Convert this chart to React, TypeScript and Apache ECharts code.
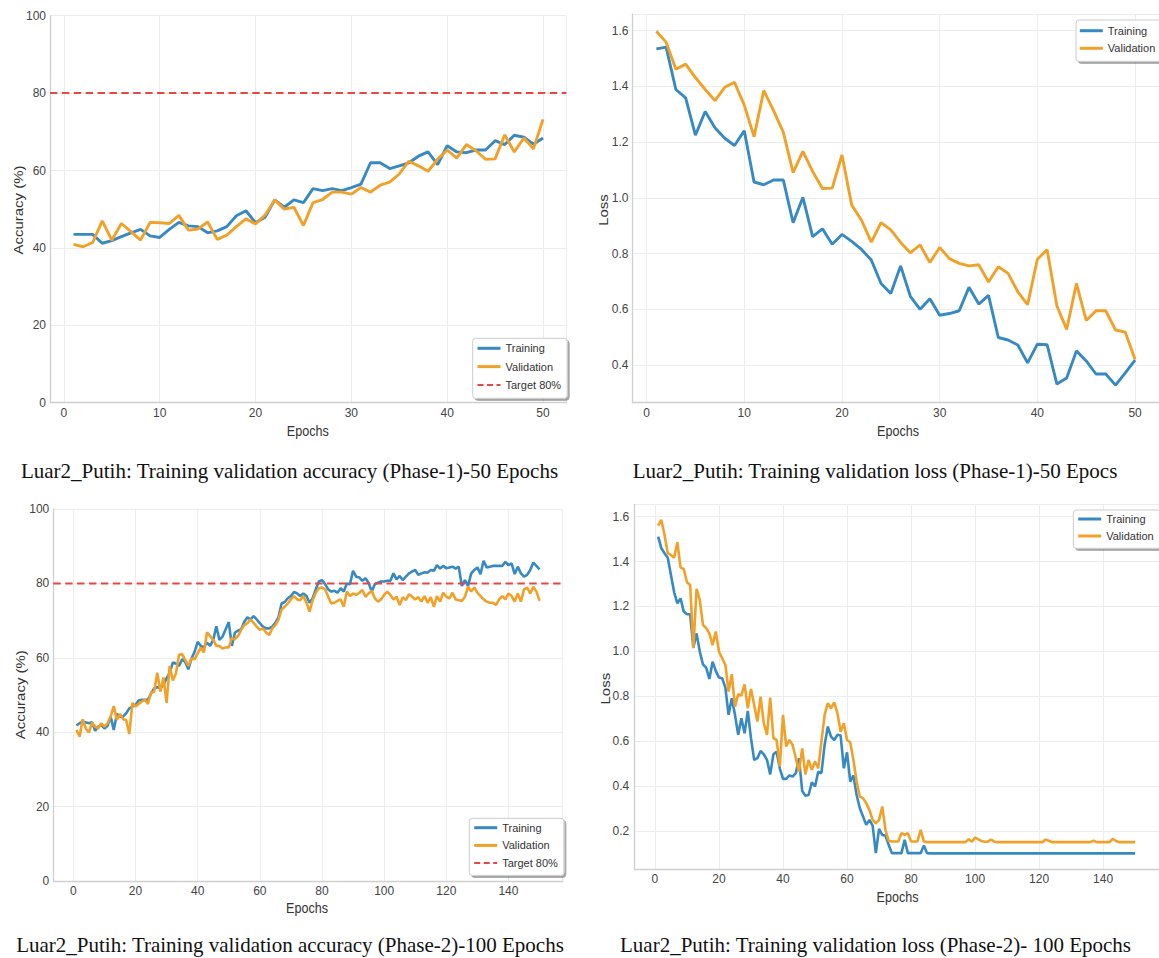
import React, { useEffect, useRef } from "react";
import * as echarts from "echarts";

// ---------------- DATA ----------------
const p1Epochs = Array.from({ length: 50 }, (_, i) => i + 1);
const p2Epochs = Array.from({ length: 150 }, (_, i) => i + 1);
const targetAccuracy = 80;

const p1TrainAcc = [
  43.5, 43.5, 43.5, 41.2, 41.9, 42.9, 43.9, 44.8, 43.1, 42.7,
  44.8, 46.6, 45.7, 45.5, 43.9, 44.4, 45.5, 48.3, 49.6, 46.5,
  47.9, 52.4, 50.5, 52.4, 51.7, 55.3, 54.8, 55.3, 54.8, 55.6,
  56.5, 62.0, 62.0, 60.5, 61.2, 62.0, 63.7, 64.8, 61.5, 66.4,
  64.8, 64.6, 65.3, 65.3, 67.7, 66.7, 69.1, 68.6, 66.8, 68.4,
];
const p1ValAcc = [
  40.9, 40.3, 41.4, 47.0, 42.0, 46.3, 44.2, 42.0, 46.6, 46.5,
  46.3, 48.4, 44.6, 44.9, 46.7, 42.2, 43.3, 45.5, 47.5, 46.2,
  48.5, 52.4, 50.0, 50.5, 45.8, 51.7, 52.5, 54.4, 54.4, 53.9,
  55.6, 54.4, 56.2, 57.0, 59.1, 62.4, 61.2, 59.8, 62.9, 65.3,
  63.2, 66.7, 65.1, 62.9, 63.0, 69.2, 64.8, 68.4, 65.6, 73.2,
];
const p1TrainLoss = [
  1.535, 1.541, 1.389, 1.359, 1.225, 1.31, 1.252, 1.214, 1.188, 1.241,
  1.057, 1.047, 1.064, 1.064, 0.911, 1.002, 0.861, 0.889, 0.834, 0.869,
  0.844, 0.815, 0.777, 0.693, 0.657, 0.756, 0.647, 0.6, 0.638, 0.579,
  0.585, 0.595, 0.679, 0.619, 0.65, 0.499, 0.49, 0.472, 0.408, 0.475,
  0.473, 0.332, 0.354, 0.451, 0.415, 0.368, 0.368, 0.328, 0.372, 0.418,
];
const p1ValLoss = [
  1.598, 1.559, 1.462, 1.48, 1.432, 1.389, 1.349, 1.397, 1.415, 1.333,
  1.22, 1.385, 1.313, 1.235, 1.091, 1.167, 1.095, 1.034, 1.035, 1.154,
  0.974, 0.92, 0.841, 0.911, 0.885, 0.84, 0.803, 0.831, 0.768, 0.822,
  0.782, 0.765, 0.756, 0.76, 0.698, 0.753, 0.729, 0.663, 0.617, 0.78,
  0.814, 0.612, 0.528, 0.693, 0.56, 0.595, 0.595, 0.526, 0.518, 0.42,
];

const p2TrainAcc = [
  41.8, 42.4, 42.8, 42.6, 42.4, 42.7, 40.4, 41.5, 41.9, 41.0,
  41.7, 44.2, 40.6, 44.9, 44.2, 44.2, 45.1, 46.4, 46.9, 47.3,
  48.5, 48.7, 48.7, 48.7, 50.4, 51.8, 52.1, 51.8, 52.7, 54.5,
  56.0, 58.7, 58.5, 57.8, 59.6, 58.9, 56.9, 59.8, 61.6, 64.3,
  63.2, 62.8, 64.1, 63.2, 64.8, 68.5, 64.8, 65.7, 67.7, 69.6,
  63.2, 66.8, 67.3, 67.7, 69.7, 70.9, 70.3, 71.2, 70.3, 69.3,
  68.4, 67.9, 67.9, 68.4, 69.4, 70.9, 74.6, 75.0, 76.0, 76.6,
  77.7, 77.3, 76.6, 77.3, 76.6, 74.8, 76.0, 78.4, 80.5, 80.9,
  79.8, 78.4, 77.8, 78.0, 77.5, 78.7, 77.8, 80.0, 79.8, 83.4,
  81.8, 81.6, 80.7, 81.4, 80.2, 77.8, 79.8, 80.2, 80.5, 80.5,
  80.7, 80.7, 82.7, 81.1, 82.0, 80.9, 81.8, 82.7, 83.2, 83.6,
  82.3, 82.7, 83.0, 82.9, 83.6, 83.4, 84.9, 84.0, 84.7, 84.1,
  84.3, 84.5, 84.0, 84.5, 79.3, 80.9, 79.3, 82.7, 83.6, 84.3,
  82.5, 86.1, 84.3, 84.5, 84.7, 84.7, 84.7, 84.7, 85.8, 84.9,
  85.4, 82.5, 84.5, 82.7, 81.8, 82.3, 83.6, 85.6, 84.7, 83.8,
];
const p2ValAcc = [
  40.6, 38.8, 43.5, 41.0, 39.9, 42.6, 41.5, 41.0, 42.4, 41.5,
  42.4, 44.2, 47.0, 43.3, 44.9, 43.5, 43.3, 39.5, 47.9, 46.9,
  47.6, 48.2, 48.8, 47.6, 50.6, 50.9, 56.0, 50.9, 54.7, 47.9,
  57.8, 53.9, 55.8, 60.8, 61.0, 59.4, 57.8, 59.8, 59.6, 61.2,
  62.8, 61.4, 66.8, 65.9, 64.8, 63.2, 63.2, 62.5, 62.8, 62.8,
  65.3, 65.0, 65.9, 67.5, 68.8, 69.3, 70.3, 69.4, 68.4, 67.5,
  67.9, 66.8, 66.1, 67.9, 68.8, 70.2, 73.0, 73.7, 74.6, 75.7,
  76.6, 75.7, 75.5, 76.6, 74.8, 72.4, 75.5, 77.5, 78.7, 78.9,
  78.4, 76.4, 74.6, 74.8, 75.3, 75.7, 73.7, 77.8, 76.6, 77.3,
  76.9, 77.5, 78.2, 76.4, 77.3, 78.0, 76.0, 75.1, 75.7, 76.9,
  77.8, 76.9, 75.7, 76.4, 74.2, 76.3, 75.5, 77.1, 76.4, 75.7,
  76.3, 75.1, 76.6, 74.8, 76.3, 73.7, 76.6, 75.1, 77.5, 76.4,
  76.0, 77.5, 75.7, 75.5, 75.3, 76.4, 79.1, 77.8, 78.9, 77.5,
  76.6, 75.7, 75.1, 74.8, 74.8, 74.2, 75.7, 76.6, 75.7, 77.3,
  76.6, 75.1, 77.3, 75.1, 78.4, 78.9, 77.3, 79.1, 77.8, 75.3,
];
const p2TrainLoss = [
  1.511, 1.459, 1.437, 1.417, 1.34, 1.263, 1.214, 1.236, 1.177, 1.165,
  1.165, 1.017, 1.08, 0.999, 0.942, 0.927, 0.877, 0.954, 0.913, 0.883,
  0.88, 0.838, 0.717, 0.791, 0.717, 0.628, 0.702, 0.635, 0.735, 0.613,
  0.516, 0.524, 0.556, 0.541, 0.516, 0.452, 0.541, 0.553, 0.479, 0.432,
  0.432, 0.447, 0.442, 0.457, 0.524, 0.378, 0.357, 0.36, 0.417, 0.398,
  0.464, 0.457, 0.583, 0.665, 0.62, 0.605, 0.628, 0.625, 0.479, 0.55,
  0.42, 0.447, 0.36, 0.301, 0.264, 0.227, 0.249, 0.224, 0.101, 0.209,
  0.182, 0.179, 0.138, 0.101, 0.101, 0.101, 0.101, 0.16, 0.101, 0.101,
  0.101, 0.101, 0.101, 0.135, 0.101, 0.1, 0.1, 0.1, 0.1, 0.1,
  0.1, 0.1, 0.1, 0.1, 0.1, 0.1, 0.1, 0.1, 0.1, 0.1,
  0.1, 0.1, 0.1, 0.1, 0.1, 0.1, 0.1, 0.1, 0.1, 0.1,
  0.1, 0.1, 0.1, 0.1, 0.1, 0.1, 0.1, 0.1, 0.1, 0.1,
  0.1, 0.1, 0.1, 0.1, 0.1, 0.1, 0.1, 0.1, 0.1, 0.1,
  0.1, 0.1, 0.1, 0.1, 0.1, 0.1, 0.1, 0.1, 0.1, 0.1,
  0.1, 0.1, 0.1, 0.1, 0.1, 0.1, 0.1, 0.1, 0.1, 0.1,
];
const p2ValLoss = [
  1.56, 1.585, 1.518, 1.437, 1.429, 1.417, 1.486, 1.373, 1.367, 1.308,
  1.296, 1.014, 1.278, 1.229, 1.118, 1.103, 1.08, 1.028, 1.088, 0.999,
  0.969, 0.939, 0.821, 0.898, 0.754, 0.809, 0.803, 0.853, 0.746, 0.832,
  0.761, 0.687, 0.798, 0.68, 0.628, 0.794, 0.613, 0.605, 0.487, 0.717,
  0.576, 0.605, 0.583, 0.524, 0.464, 0.568, 0.452, 0.516, 0.472, 0.509,
  0.479, 0.598, 0.717, 0.769, 0.746, 0.773, 0.724, 0.642, 0.68, 0.605,
  0.595, 0.516, 0.42, 0.353, 0.346, 0.323, 0.294, 0.249, 0.234, 0.249,
  0.309, 0.205, 0.156, 0.153, 0.153, 0.153, 0.19, 0.183, 0.19, 0.153,
  0.153, 0.153, 0.205, 0.153, 0.15, 0.15, 0.15, 0.15, 0.15, 0.15,
  0.15, 0.15, 0.15, 0.15, 0.15, 0.15, 0.15, 0.163, 0.152, 0.17,
  0.162, 0.155, 0.152, 0.152, 0.162, 0.152, 0.15, 0.15, 0.15, 0.15,
  0.15, 0.15, 0.15, 0.15, 0.15, 0.15, 0.15, 0.15, 0.15, 0.15,
  0.15, 0.162, 0.156, 0.15, 0.15, 0.15, 0.15, 0.15, 0.15, 0.15,
  0.15, 0.15, 0.15, 0.15, 0.15, 0.15, 0.157, 0.15, 0.15, 0.15,
  0.15, 0.15, 0.165, 0.155, 0.15, 0.15, 0.15, 0.15, 0.15, 0.15,
];

const captions = [
  "Luar2_Putih: Training validation accuracy (Phase-1)-50 Epochs",
  "Luar2_Putih: Training validation loss (Phase-1)-50 Epocs",
  "Luar2_Putih: Training validation accuracy (Phase-2)-100 Epochs",
  "Luar2_Putih: Training validation loss (Phase-2)- 100 Epochs",
];

// ---------------- STYLE ----------------
const BLUE = "#3689C3";
const ORANGE = "#F2A128";
const RED = "#E84545";
const AXIS_C = "#cfcfcf";
const GRID_C = "#ededed";
const TICK_C = "#444444";
const TITLE_C = "#333333";
const SANS = "'Liberation Sans', Arial, sans-serif";
const SERIF = "'Liberation Serif', 'Times New Roman', serif";
const SQUISH = 0.84;

const pairs = (xs: number[], ys: number[]) => xs.map((x, i) => [x, ys[i]]);

function xAxisOf(gridIndex: number, min: number, max: number, splitNumber: number) {
  return {
    type: "value",
    gridIndex,
    min,
    max,
    splitNumber,
    axisLine: { show: true, onZero: false, lineStyle: { color: AXIS_C, width: 1.3 } },
    axisTick: { show: false },
    splitLine: { show: true, lineStyle: { color: GRID_C, width: 1 } },
    axisLabel: {
      showMinLabel: false,
      showMaxLabel: false,
      margin: 4,
      fontFamily: SANS,
      fontSize: 12,
      color: TICK_C,
    },
  };
}

function yAxisOf(gridIndex: number, min: number, max: number, opts: any) {
  return {
    type: "value",
    gridIndex,
    min,
    max,
    ...opts.scale,
    axisLine: { show: true, onZero: false, lineStyle: { color: AXIS_C, width: 1.3 } },
    axisTick: { show: false },
    splitLine: { show: true, lineStyle: { color: GRID_C, width: 1 } },
    axisLabel: {
      margin: opts.margin ?? 4,
      fontFamily: SANS,
      fontSize: 12,
      color: TICK_C,
      ...opts.label,
    },
  };
}

function lineSeries(name: string, idx: number, data: number[][], color: string, width: number, z: number, dashed = false) {
  return {
    type: "line",
    name,
    xAxisIndex: idx,
    yAxisIndex: idx,
    data,
    showSymbol: false,
    symbol: "none",
    z,
    emphasis: { disabled: true },
    lineStyle: { color, width, type: dashed ? [7.4, 4.5] : "solid" },
    itemStyle: { color },
  };
}

function legendOf(left: number, top: number, names: string[], itemGap: number, padding: number[]) {
  return {
    orient: "vertical",
    left,
    top,
    data: names.map((n) =>
      n === "Target 80%"
        ? { name: n, lineStyle: { type: [6, 3.5], width: 2 } }
        : { name: n, lineStyle: { width: 3 } }
    ),
    selectedMode: false,
    itemWidth: 23,
    itemHeight: 10,
    itemGap,
    padding,
    itemStyle: { opacity: 0 },
    backgroundColor: "#ffffff",
    borderColor: "#cccccc",
    borderWidth: 1,
    borderRadius: 3,
    shadowColor: "rgba(0,0,0,0.35)",
    shadowBlur: 1,
    shadowOffsetX: 2,
    shadowOffsetY: 2,
    textStyle: { fontFamily: SANS, fontSize: 11, color: "#333", lineHeight: 14 },
  };
}

function txt(text: string, x: number, y: number, font: string, size: number, color: string, rotation = 0, sx = 1, sy = 1) {
  return {
    type: "text",
    x,
    y,
    rotation,
    scaleX: sx,
    scaleY: sy,
    silent: true,
    style: {
      text,
      fontFamily: font,
      fontSize: size,
      fill: color,
      align: "center",
      verticalAlign: "middle",
    },
  };
}

function buildOption() {
  const p1X: [number, number] = [-1.45, 52.45];
  const p2X: [number, number] = [-6.45, 157.45];
  const fmt1 = (v: number) => v.toFixed(1);

  return {
    animation: false,
    backgroundColor: "#ffffff",
    grid: [
      { left: 50, top: 15.7, width: 516.5, height: 387 },
      { left: 632.4, top: 14, width: 532, height: 388.7 },
      { left: 53.3, top: 509, width: 509.4, height: 372 },
      { left: 634.3, top: 504.3, width: 525.8, height: 365 },
    ],
    xAxis: [
      xAxisOf(0, p1X[0], p1X[1], 5),
      xAxisOf(1, p1X[0], p1X[1], 5),
      xAxisOf(2, p2X[0], p2X[1], 8),
      xAxisOf(3, p2X[0], p2X[1], 8),
    ],
    yAxis: [
      yAxisOf(0, 0, 100, { scale: { interval: 20 } }),
      yAxisOf(1, 0.265, 1.66, {
        scale: { splitNumber: 7 },
        label: { showMinLabel: false, showMaxLabel: false, formatter: fmt1 },
      }),
      yAxisOf(2, 0, 100, { scale: { interval: 20 } }),
      yAxisOf(3, 0.029, 1.655, {
        scale: { splitNumber: 8 },
        margin: 5,
        label: { showMinLabel: false, showMaxLabel: false, formatter: fmt1 },
      }),
    ],
    legend: [
      legendOf(472.7, 338.3, ["Training", "Validation", "Target 80%"], 4.3, [3, 6, 6.4, 3.3]),
      legendOf(1076, 20, ["Training", "Validation"], 3.6, [3.7, 7, 6, 2.3]),
      legendOf(469.3, 818.3, ["Training", "Validation", "Target 80%"], 3.7, [2.4, 6, 5.3, 3.4]),
      legendOf(1073.3, 510, ["Training", "Validation"], 3, [2, 7, 5.3, 3.4]),
    ],
    series: [
      lineSeries("Training", 0, pairs(p1Epochs, p1TrainAcc), BLUE, 2.9, 2),
      lineSeries("Validation", 0, pairs(p1Epochs, p1ValAcc), ORANGE, 2.9, 3),
      lineSeries("Target 80%", 0, [[p1X[0], targetAccuracy], [p1X[1], targetAccuracy]], RED, 2, 4, true),
      lineSeries("Training", 1, pairs(p1Epochs, p1TrainLoss), BLUE, 2.9, 2),
      lineSeries("Validation", 1, pairs(p1Epochs, p1ValLoss), ORANGE, 2.9, 3),
      lineSeries("Training", 2, pairs(p2Epochs, p2TrainAcc), BLUE, 2.6, 2),
      lineSeries("Validation", 2, pairs(p2Epochs, p2ValAcc), ORANGE, 2.6, 3),
      lineSeries("Target 80%", 2, [[p2X[0], targetAccuracy], [p2X[1], targetAccuracy]], RED, 2, 4, true),
      lineSeries("Training", 3, pairs(p2Epochs, p2TrainLoss), BLUE, 2.6, 2),
      lineSeries("Validation", 3, pairs(p2Epochs, p2ValLoss), ORANGE, 2.6, 3),
    ],
    graphic: [
      txt("Epochs", 307.8, 431, SANS, 15, TITLE_C, 0, SQUISH, 1),
      txt("Accuracy (%)", 18.7, 210, SANS, 15, TITLE_C, Math.PI / 2, 1, SQUISH),
      txt("Epochs", 898, 431, SANS, 15, TITLE_C, 0, SQUISH, 1),
      txt("Loss", 603, 210, SANS, 15, TITLE_C, Math.PI / 2, 1, SQUISH),
      txt("Epochs", 307, 908, SANS, 15, TITLE_C, 0, SQUISH, 1),
      txt("Accuracy (%)", 20.5, 694.7, SANS, 15, TITLE_C, Math.PI / 2, 1, SQUISH),
      txt("Epochs", 897.5, 897, SANS, 15, TITLE_C, 0, SQUISH, 1),
      txt("Loss", 605.7, 688.7, SANS, 15, TITLE_C, Math.PI / 2, 1, SQUISH),
      txt(captions[0], 289.5, 471, SERIF, 21, "#111111"),
      txt(captions[1], 875, 471, SERIF, 21, "#111111"),
      txt(captions[2], 290, 945, SERIF, 21, "#111111"),
      txt(captions[3], 875.5, 945, SERIF, 21, "#111111"),
    ],
  };
}

export default function App() {
  const ref = useRef<HTMLDivElement>(null);
  useEffect(() => {
    if (!ref.current) return;
    const chart = echarts.init(ref.current, null, { renderer: "svg" });
    chart.setOption(buildOption() as any);
    return () => chart.dispose();
  }, []);
  return (
    <div
      ref={ref}
      style={{ position: "absolute", left: 0, top: 0, width: 1159, height: 958, background: "#ffffff" }}
    />
  );
}
